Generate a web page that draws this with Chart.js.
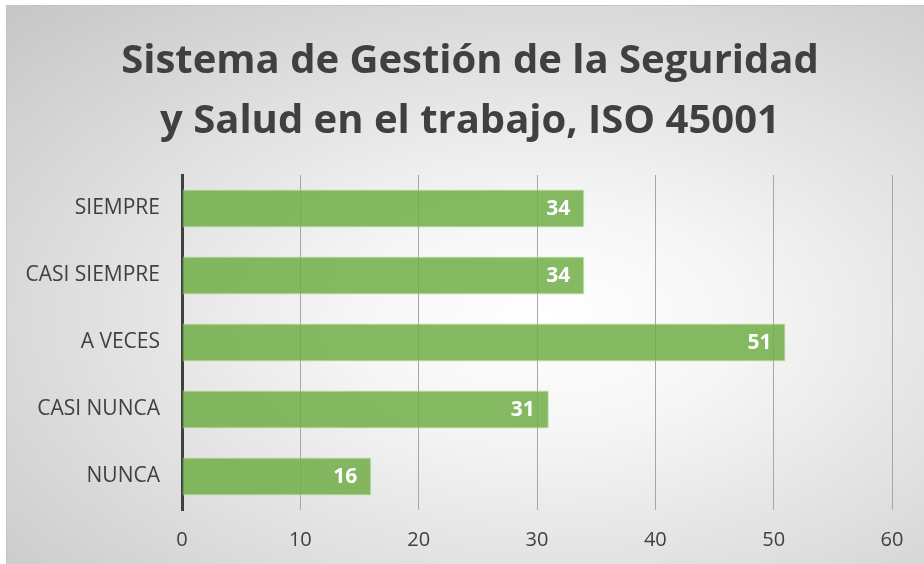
<!DOCTYPE html>
<html>
<head>
<meta charset="utf-8">
<script src="https://cdn.jsdelivr.net/npm/chart.js@4"></script>
<style>
  html, body { margin: 0; padding: 0; background: #fff; }
  #wrap {
    position: relative;
    width: 924px;
    height: 564px;
    overflow: hidden;
  }
  #frame {
    position: absolute;
    left: 6px;
    top: 5px;
    width: 930px;
    height: 570px;
    border-top: 1px solid #c4c4c4;
    border-left: 1px solid #c4c4c4;
    background: radial-gradient(ellipse at 58% 55%, #ffffff 0%, #f6f6f6 25%, #c6c6c6 100%);
  }
  canvas { position: absolute; left: 0; top: 0; }
</style>
</head>
<body>
<div id="wrap">
  <div id="frame"></div>
  <canvas id="chart" width="924" height="564"></canvas>
</div>
<script>
const categories = ['SIEMPRE', 'CASI SIEMPRE', 'A VECES', 'CASI NUNCA', 'NUNCA'];
const values = [34, 34, 51, 31, 16];
const xTicks = [0, 10, 20, 30, 40, 50, 60];

// white value labels at the inner end of each bar
const barLabels = {
    id: 'barLabels',
    afterLayout(chart) {
        // centre the title on the whole frame, not on the padded box
        const t = chart.titleBlock;
        t.left = 16;
        t.right = 924;
        t.width = 908;
    },
    afterDatasetsDraw(chart) {
        const ctx = chart.ctx;
        const meta = chart.getDatasetMeta(0);
        ctx.save();
        ctx.fillStyle = '#ffffff';
        ctx.font = 'bold 21px "Open Sans"';
        ctx.textAlign = 'right';
        ctx.textBaseline = 'middle';
        meta.data.forEach((bar, i) => {
            ctx.fillText(values[i], bar.x - 14, bar.y + 1);
        });
        ctx.restore();
    }
};

const ctx = document.querySelector('#chart').getContext('2d');
const chart = new Chart(ctx, {
    type: 'bar',
    data: {
        labels: categories,
        datasets: [{
            data: values,
            backgroundColor: 'rgba(112,173,71,0.85)',
            borderColor: 'rgba(190,225,170,0.9)',
            borderWidth: 1,
            borderSkipped: 'start',
            barPercentage: 0.57,
            categoryPercentage: 1
        }]
    },
    options: {
        indexAxis: 'y',
        responsive: false,
        animation: false,
        layout: { padding: { left: 10, right: 32, top: 20, bottom: 0 } },
        plugins: {
            legend: { display: false },
            tooltip: { enabled: false },
            title: {
                display: true,
                text: ['Sistema de Gestión de la Seguridad', 'y Salud en el trabajo, ISO 45001'],
                color: '#404040',
                font: { family: 'Open Sans', size: 40, weight: 'bold', lineHeight: 1.5 },
                padding: { top: 12, bottom: 23 }
            }
        },
        scales: {
            x: {
                min: 0,
                max: 60,
                afterBuildTicks(scale) {
                    scale.ticks = xTicks.map(v => ({ value: v }));
                },
                afterFit(scale) { scale.height -= 6; },
                grid: { color: '#a6a6a6', lineWidth: 1, drawTicks: false },
                border: { display: false },
                ticks: {
                    color: '#404040',
                    padding: 20,
                    font: { family: 'Open Sans', size: 20, lineHeight: 1.0 }
                }
            },
            y: {
                grid: { display: false, drawTicks: false },
                border: { display: true, color: '#404040', width: 3 },
                afterFit(scale) { scale.width = 172; },
                ticks: {
                    color: '#404040',
                    padding: 22,
                    font: { family: 'Open Sans', size: 21 }
                }
            }
        }
    },
    plugins: [barLabels]
});
</script>
</body>
</html>
